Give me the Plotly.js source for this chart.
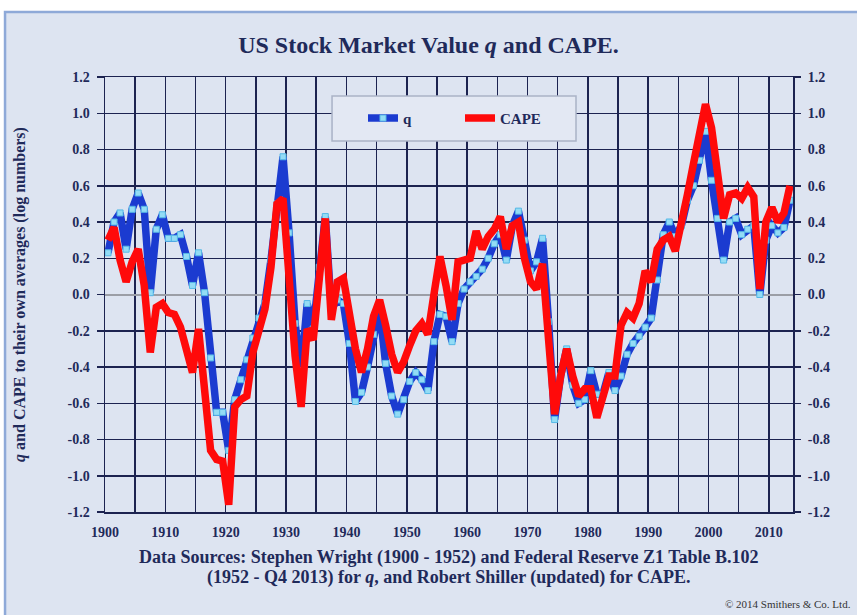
<!DOCTYPE html>
<html>
<head>
<meta charset="utf-8">
<script src="https://cdn.plot.ly/plotly-3.0.1.min.js"></script>
<style>html,body{margin:0;padding:0;background:#fff;}#chart{width:857px;height:615px;}</style>
</head>
<body>
<div id="chart"></div>
<script>
const years = [1900,1901,1902,1903,1904,1905,1906,1907,1908,1909,
1910,1911,1912,1913,1914,1915,1916,1917,1918,1919,
1920,1921,1922,1923,1924,1925,1926,1927,1928,1929,
1930,1931,1932,1933,1934,1935,1936,1937,1938,1939,
1940,1941,1942,1943,1944,1945,1946,1947,1948,1949,
1950,1951,1952,1953,1954,1955,1956,1957,1958,1959,
1960,1961,1962,1963,1964,1965,1966,1967,1968,1969,
1970,1971,1972,1973,1974,1975,1976,1977,1978,1979,
1980,1981,1982,1983,1984,1985,1986,1987,1988,1989,
1990,1991,1992,1993,1994,1995,1996,1997,1998,1999,
2000,2001,2002,2003,2004,2005,2006,2007,2008,2009,
2010,2011,2012,2013];

const qValues = [0.23,0.40,0.45,0.25,0.47,0.56,0.47,0.01,0.36,0.44,
0.31,0.31,0.33,0.21,0.05,0.23,0.01,-0.35,-0.65,-0.65,
-0.86,-0.58,-0.47,-0.36,-0.24,-0.13,-0.05,0.19,0.50,0.76,
0.34,-0.16,-0.42,-0.05,-0.19,0.15,0.43,-0.08,-0.03,-0.05,
-0.27,-0.59,-0.54,-0.40,-0.22,-0.08,-0.38,-0.56,-0.66,-0.58,
-0.48,-0.43,-0.47,-0.53,-0.26,-0.11,-0.12,-0.26,-0.05,0.03,
0.07,0.10,0.14,0.20,0.28,0.33,0.19,0.38,0.46,0.30,
0.13,0.18,0.31,-0.15,-0.69,-0.45,-0.30,-0.50,-0.60,-0.58,
-0.42,-0.55,-0.55,-0.43,-0.53,-0.45,-0.33,-0.27,-0.23,-0.18,
-0.13,0.08,0.33,0.40,0.32,0.38,0.52,0.60,0.74,0.90,
0.63,0.42,0.19,0.40,0.42,0.33,0.36,0.38,0.00,0.30,
0.38,0.34,0.37,0.52];

const capeValues = [0.30,0.37,0.19,0.07,0.18,0.25,0.05,-0.32,-0.07,-0.05,
-0.10,-0.11,-0.18,-0.30,-0.43,-0.19,-0.50,-0.86,-0.91,-0.92,
-1.16,-0.62,-0.58,-0.56,-0.32,-0.18,-0.08,0.15,0.50,0.53,
0.06,-0.34,-0.62,-0.19,-0.25,0.10,0.42,-0.14,0.07,0.09,
-0.12,-0.30,-0.43,-0.30,-0.12,-0.03,-0.17,-0.33,-0.43,-0.37,
-0.28,-0.20,-0.16,-0.22,0.00,0.21,0.05,-0.14,0.18,0.19,
0.20,0.35,0.25,0.32,0.36,0.43,0.25,0.38,0.40,0.20,
0.07,0.03,0.17,-0.25,-0.66,-0.45,-0.30,-0.45,-0.56,-0.52,
-0.52,-0.68,-0.55,-0.45,-0.45,-0.17,-0.10,-0.13,-0.05,0.13,
0.07,0.25,0.30,0.32,0.24,0.38,0.55,0.72,0.88,1.05,
0.92,0.65,0.42,0.55,0.56,0.53,0.59,0.54,0.03,0.40,
0.48,0.40,0.45,0.60];

const seriesNames = ['q', 'CAPE'];
const xTickLabels = ['1900','1910','1920','1930','1940','1950','1960','1970','1980','1990','2000','2010'];
const yTickLabels = ['-1.2','-1.0','-0.8','-0.6','-0.4','-0.2','0.0','0.2','0.4','0.6','0.8','1.0','1.2'];
const sourceLines = [
  'Data Sources: Stephen Wright (1900 - 1952) and Federal Reserve Z1 Table B.102',
  '(1952 - Q4 2013) for <i>q</i>, and Robert Shiller (updated) for CAPE.'
];

const navy = '#1c2350';
const textCol = '#1f2a5a';
const serif = "'Liberation Serif', serif";

// gridlines every 5 years, labels every 10 (years are centred in their slot)
const xTickVals = [], xTickText = [];
xTickLabels.forEach(function (lab) {
  const d = parseInt(lab, 10);
  xTickVals.push(d - 0.5); xTickText.push(lab);
  xTickVals.push(d + 4.5); xTickText.push('');
});
const yTickVals = yTickLabels.map(Number);

function tf() { return {family: serif, size: 14, color: textCol, weight: 'bold'}; }

const traces = [
  {
    x: years, y: qValues, name: seriesNames[0], type: 'scatter', mode: 'lines+markers',
    line: {color: '#1b3bd0', width: 7.5},
    marker: {symbol: 'square', size: 6, color: '#93dcf5', line: {color: '#55b8e6', width: 1}},
    hoverinfo: 'x+y'
  },
  {
    x: years, y: capeValues, name: seriesNames[1], type: 'scatter', mode: 'lines',
    line: {color: '#ff0a0a', width: 7.5},
    hoverinfo: 'x+y'
  },
  {
    x: years, y: capeValues, yaxis: 'y2', type: 'scatter', mode: 'lines',
    line: {width: 0}, opacity: 0, showlegend: false, hoverinfo: 'skip'
  }
];

const layout = {
  width: 857, height: 615,
  margin: {l: 105, r: 64, t: 77, b: 103},
  paper_bgcolor: '#ffffff',
  plot_bgcolor: 'rgba(0,0,0,0)',
  showlegend: true,
  title: {
    text: 'US Stock Market Value <i>q</i> and CAPE.',
    font: {family: serif, size: 24, color: textCol, weight: 'bold'},
    x: 0.5, xref: 'container', xanchor: 'center',
    y: 0.928, yref: 'container', yanchor: 'middle'
  },
  xaxis: {
    range: [1899.5, 2013.5],
    tickmode: 'array', tickvals: xTickVals, ticktext: xTickText,
    showgrid: true, gridcolor: navy, gridwidth: 1.5,
    showline: true, linecolor: navy, linewidth: 1.5, mirror: true,
    ticks: '', zeroline: false,
    tickfont: tf(), ticklabelstandoff: 7,
    fixedrange: true
  },
  yaxis: {
    range: [-1.2, 1.2],
    tickmode: 'array', tickvals: yTickVals, ticktext: yTickLabels,
    showgrid: true, gridcolor: navy, gridwidth: 1.5,
    showline: true, linecolor: navy, linewidth: 1.5, mirror: true,
    ticks: 'outside', ticklen: 7, tickcolor: navy, tickwidth: 1.5,
    zeroline: true, zerolinecolor: '#9b9ea6', zerolinewidth: 2,
    tickfont: tf(), ticklabelstandoff: 4,
    title: {
      text: '<i>q</i> and CAPE to their own averages (log numbers)',
      font: {family: serif, size: 16, color: textCol, weight: 'bold'},
      standoff: 38
    },
    fixedrange: true
  },
  yaxis2: {
    overlaying: 'y', side: 'right',
    range: [-1.2, 1.2],
    tickmode: 'array', tickvals: yTickVals, ticktext: yTickLabels,
    showgrid: false, zeroline: false, showline: false,
    ticks: 'outside', ticklen: 7, tickcolor: navy, tickwidth: 1.5,
    tickfont: tf(), ticklabelstandoff: 4,
    fixedrange: true
  },
  legend: {
    orientation: 'h',
    x: 0.375, xanchor: 'left', y: 0.905, yanchor: 'middle',
    bgcolor: 'rgba(0,0,0,0)', borderwidth: 0,
    font: {family: serif, size: 15, color: textCol, weight: 'bold'},
    entrywidth: 52
  },
  shapes: [
    {type: 'rect', xref: 'paper', yref: 'paper', layer: 'below',
     x0: -0.1453, x1: 1.11, y0: -0.26, y1: 1.1494,
     fillcolor: '#dde4f1', line: {color: '#8ea9d8', width: 2.5}},
    {type: 'rect', xref: 'paper', yref: 'paper', layer: 'above',
     x0: 0.33, x1: 0.6846, y0: 0.853, y1: 0.9563,
     fillcolor: '#e3e8f3', line: {color: '#aab3c6', width: 1.5}}
  ],
  annotations: [
    {text: sourceLines[0],
     xref: 'paper', yref: 'paper', x: 0.5, y: -0.1057, xanchor: 'center', yanchor: 'middle',
     showarrow: false, font: {family: serif, size: 18, color: textCol, weight: 'bold'}},
    {text: sourceLines[1],
     xref: 'paper', yref: 'paper', x: 0.5, y: -0.1517, xanchor: 'center', yanchor: 'middle',
     showarrow: false, font: {family: serif, size: 18, color: textCol, weight: 'bold'}},
    {text: '© 2014 Smithers &amp; Co. Ltd.',
     xref: 'paper', yref: 'paper', x: 1.087, y: -0.2115, xanchor: 'right', yanchor: 'middle',
     showarrow: false,
     font: {family: serif, size: 11, color: '#333333'}}
  ]
};

Plotly.newPlot('chart', traces, layout, {displayModeBar: false, staticPlot: true});
</script>
</body>
</html>
